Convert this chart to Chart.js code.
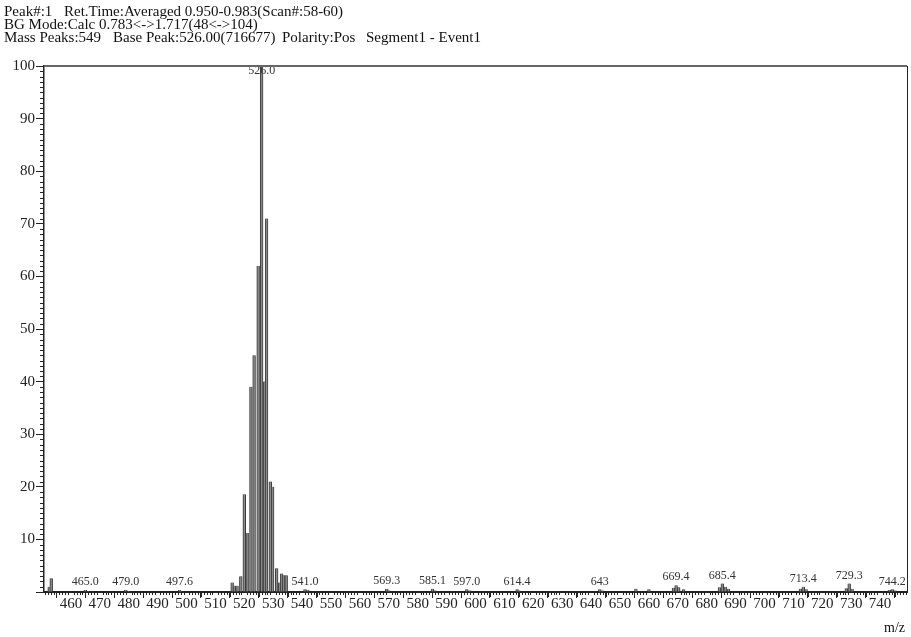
<!DOCTYPE html>
<html>
<head>
<meta charset="utf-8">
<script src="https://cdn.jsdelivr.net/npm/chart.js@4.4.1/dist/chart.umd.min.js"></script>
<style>
  html, body { margin: 0; padding: 0; background: #fff; }
  #wrap { width: 911px; height: 637px; }
</style>
</head>
<body>
<div id="wrap"><canvas id="spectrum" width="911" height="637"></canvas></div>
<script>
// Averaged mass spectrum, scans 58-60: m/z positions and relative intensities (%)
const peakMz = [
  452.5, 453.2, 465.0, 466.0, 479.0, 480.0, 497.6, 498.0,
  515.8, 516.6, 517.5, 518.8, 520.0, 521.0, 522.3, 523.4, 524.8,
  526.0, 527.0, 527.7, 529.0, 529.8, 531.2, 532.2, 532.9, 533.6, 534.5,
  541.0, 542.0, 569.3, 570.0, 585.1, 586.0, 597.0, 598.0, 614.4, 615.0,
  643.0, 644.0, 655.5, 660.0, 668.5, 669.4, 670.3, 672.0,
  684.4, 685.4, 686.4, 687.5, 712.4, 713.4, 714.4,
  728.3, 729.3, 730.3, 743.2, 744.2, 745.2
];
const peakIntensity = [
  1.0, 2.6, 0.4, 0.2, 0.4, 0.2, 0.4, 0.2,
  1.8, 1.2, 1.2, 3.0, 18.6, 11.2, 39.0, 45.0, 62.0,
  100.0, 40.0, 71.0, 21.0, 20.0, 4.5, 1.8, 3.5, 3.2, 3.2,
  0.5, 0.4, 0.6, 0.3, 0.6, 0.3, 0.5, 0.3, 0.5, 0.3,
  0.5, 0.3, 0.6, 0.5, 0.8, 1.3, 0.9, 0.5,
  0.9, 1.6, 1.0, 0.6, 0.6, 1.0, 0.5,
  0.7, 1.6, 0.6, 0.4, 0.5, 0.3
];

// Annotated peaks (m/z value and the text printed above the bar)
const annotatedMz = [465.0, 479.0, 497.6, 526.0, 541.0, 569.3, 585.1, 597.0, 614.4, 643.0, 669.4, 685.4, 713.4, 729.3, 744.2];
const annotatedText = ['465.0', '479.0', '497.6', '526.0', '541.0', '569.3', '585.1', '597.0', '614.4', '643', '669.4', '685.4', '713.4', '729.3', '744.2'];

// Acquisition header
const headerLine1 = ['Peak#:1', 'Ret.Time:Averaged 0.950-0.983(Scan#:58-60)'];
const headerLine2 = ['BG Mode:Calc 0.783<->1.717(48<->104)'];
const headerLine3 = ['Mass Peaks:549', 'Base Peak:526.00(716677)', 'Polarity:Pos', 'Segment1 - Event1'];

const SERIF = '"Liberation Serif", "Times New Roman", serif';

const headerPlugin = {
  id: 'header',
  afterDraw(chart) {
    const ctx = chart.ctx;
    ctx.save();
    ctx.fillStyle = '#111';
    ctx.font = '15px ' + SERIF;
    ctx.textBaseline = 'alphabetic';
    ctx.textAlign = 'left';
    const rows = [
      { y: 16, parts: headerLine1, xs: [4, 64] },
      { y: 29, parts: headerLine2, xs: [4] },
      { y: 42, parts: headerLine3, xs: [4, 113, 282, 366] }
    ];
    rows.forEach(r => r.parts.forEach((t, i) => ctx.fillText(t, r.xs[i], r.y)));
    // axis unit
    ctx.font = '14px ' + SERIF;
    ctx.fillText('m/z', 884, 632);
    ctx.restore();
  }
};

const framePlugin = {
  id: 'frame',
  afterDraw(chart) {
    const { ctx, chartArea: a } = chart;
    ctx.save();
    ctx.strokeStyle = '#666';
    ctx.lineWidth = 2;
    ctx.beginPath();
    ctx.moveTo(a.left, a.top);
    ctx.lineTo(a.right, a.top);
    ctx.stroke();
    ctx.strokeStyle = '#222';
    ctx.lineWidth = 1;
    ctx.beginPath();
    ctx.moveTo(a.right + 0.5, a.top);
    ctx.lineTo(a.right + 0.5, a.bottom);
    ctx.stroke();
    ctx.restore();
  }
};

const minorTickPlugin = {
  id: 'minorTicks',
  afterDraw(chart) {
    const { ctx } = chart;
    const xs = chart.scales.x, ys = chart.scales.y;
    ctx.save();
    ctx.strokeStyle = '#222';
    ctx.lineWidth = 1;
    ctx.beginPath();
    for (let v = 1; v < 100; v++) {
      if (v % 10 === 0) continue;
      const py = Math.round(ys.getPixelForValue(v)) + 0.5;
      ctx.moveTo(ys.right - 4, py);
      ctx.lineTo(ys.right, py);
    }
    for (let m = Math.ceil(xs.min); m <= xs.max; m++) {
      if (m % 10 === 0) continue;
      const px = Math.round(xs.getPixelForValue(m)) + 0.5;
      const len = m % 5 === 0 ? 5 : 3;
      ctx.moveTo(px, xs.top);
      ctx.lineTo(px, xs.top + len);
    }
    ctx.stroke();
    ctx.restore();
  }
};

const peakLabelPlugin = {
  id: 'peakLabels',
  afterDatasetsDraw(chart) {
    const { ctx, chartArea: a } = chart;
    const xs = chart.scales.x, ys = chart.scales.y;
    ctx.save();
    ctx.fillStyle = '#333';
    ctx.font = '12px ' + SERIF;
    ctx.textAlign = 'center';
    ctx.textBaseline = 'bottom';
    annotatedMz.forEach((m, i) => {
      const k = peakMz.indexOf(m);
      const val = peakIntensity[k];
      const px = xs.getPixelForValue(m);
      let py = ys.getPixelForValue(val) - 2;
      py = Math.max(py, a.top + 11);
      ctx.fillText(annotatedText[i], px, py);
    });
    ctx.restore();
  }
};

new Chart(document.getElementById('spectrum'), {
  type: 'bar',
  data: {
    datasets: [{
      data: peakMz.map((m, i) => ({ x: m, y: peakIntensity[i] })),
      backgroundColor: '#8a8a8a',
      borderColor: '#3c3c3c',
      borderWidth: { left: 1, right: 1, top: 0, bottom: 0 },
      borderSkipped: false,
      barThickness: 2.8
    }]
  },
  options: {
    responsive: false,
    animation: false,
    layout: { padding: { top: 66, right: 4, left: 0, bottom: 0 } },
    plugins: { legend: { display: false }, tooltip: { enabled: false }, title: { display: false } },
    scales: {
      x: {
        type: 'linear',
        min: 450.7,
        max: 749.3,
        offset: false,
        grid: { display: true, drawOnChartArea: false, drawTicks: true, tickLength: 6, color: '#222', lineWidth: 1 },
        border: { display: true, color: '#222', width: 2 },
        ticks: {
          stepSize: 10, includeBounds: false, autoSkip: false, maxRotation: 0,
          font: { family: SERIF, size: 15 }, color: '#222', padding: -3
        },
        afterFit(s) { s.height = 45; }
      },
      y: {
        min: 0,
        max: 100,
        grid: { display: true, drawOnChartArea: false, tickLength: 8, color: '#222', lineWidth: 1 },
        border: { display: true, color: '#222', width: 1.5 },
        ticks: {
          stepSize: 10, font: { family: SERIF, size: 15 }, color: '#222', padding: 1,
          callback: v => (v === 0 ? '' : v)
        },
        afterFit(s) { s.width = 44; }
      }
    }
  },
  plugins: [headerPlugin, framePlugin, minorTickPlugin, peakLabelPlugin]
});
</script>
</body>
</html>
